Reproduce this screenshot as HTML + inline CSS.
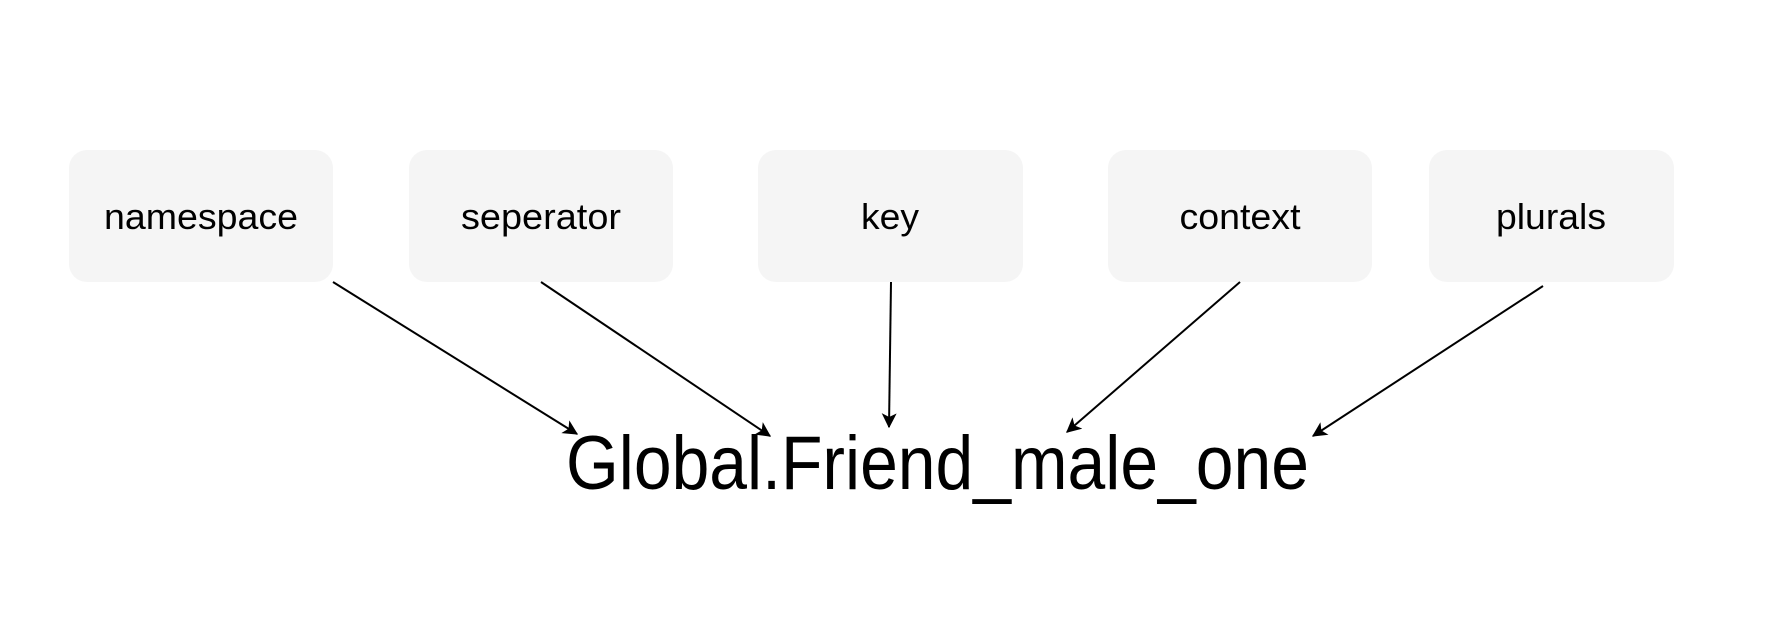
<!DOCTYPE html>
<html><head><meta charset="utf-8"><style>
html,body{margin:0;padding:0;background:#fff;}
svg{display:block;}
</style></head><body>
<svg width="1780" height="620" viewBox="0 0 1780 620" xmlns="http://www.w3.org/2000/svg">
<defs>
<marker id="a" viewBox="0 0 12 12" refX="11" refY="6" markerWidth="15" markerHeight="15" markerUnits="userSpaceOnUse" orient="auto">
<path d="M0,0 L12,6 L0,12 L3,6 Z" fill="#000"/>
</marker>
</defs>
<g fill="#f5f5f5">
<rect x="69" y="150" width="264" height="132" rx="18"/>
<rect x="409" y="150" width="264" height="132" rx="18"/>
<rect x="758" y="150" width="265" height="132" rx="18"/>
<rect x="1108" y="150" width="264" height="132" rx="18"/>
<rect x="1429" y="150" width="245" height="132" rx="18"/>
</g>
<g font-family="Liberation Sans, Arial, sans-serif" font-size="36" text-anchor="middle" fill="#000">
<text x="201" y="229" textLength="194" lengthAdjust="spacingAndGlyphs">namespace</text>
<text x="541" y="229" textLength="160" lengthAdjust="spacingAndGlyphs">seperator</text>
<text x="890" y="229" textLength="58" lengthAdjust="spacingAndGlyphs">key</text>
<text x="1240" y="229" textLength="121" lengthAdjust="spacingAndGlyphs">context</text>
<text x="1551" y="229" textLength="110" lengthAdjust="spacingAndGlyphs">plurals</text>
</g>
<text x="566" y="489" font-family="Liberation Sans, Arial, sans-serif" font-size="76" textLength="743" lengthAdjust="spacingAndGlyphs" fill="#000">Global.Friend_male_one</text>
<g stroke="#000" stroke-width="2" fill="none" marker-end="url(#a)">
<line x1="333" y1="282" x2="577" y2="434"/>
<line x1="541" y1="282" x2="770" y2="436"/>
<line x1="891" y1="282" x2="889" y2="427"/>
<line x1="1240" y1="282" x2="1067" y2="432"/>
<line x1="1543" y1="286" x2="1313" y2="436"/>
</g>
</svg>
</body></html>
